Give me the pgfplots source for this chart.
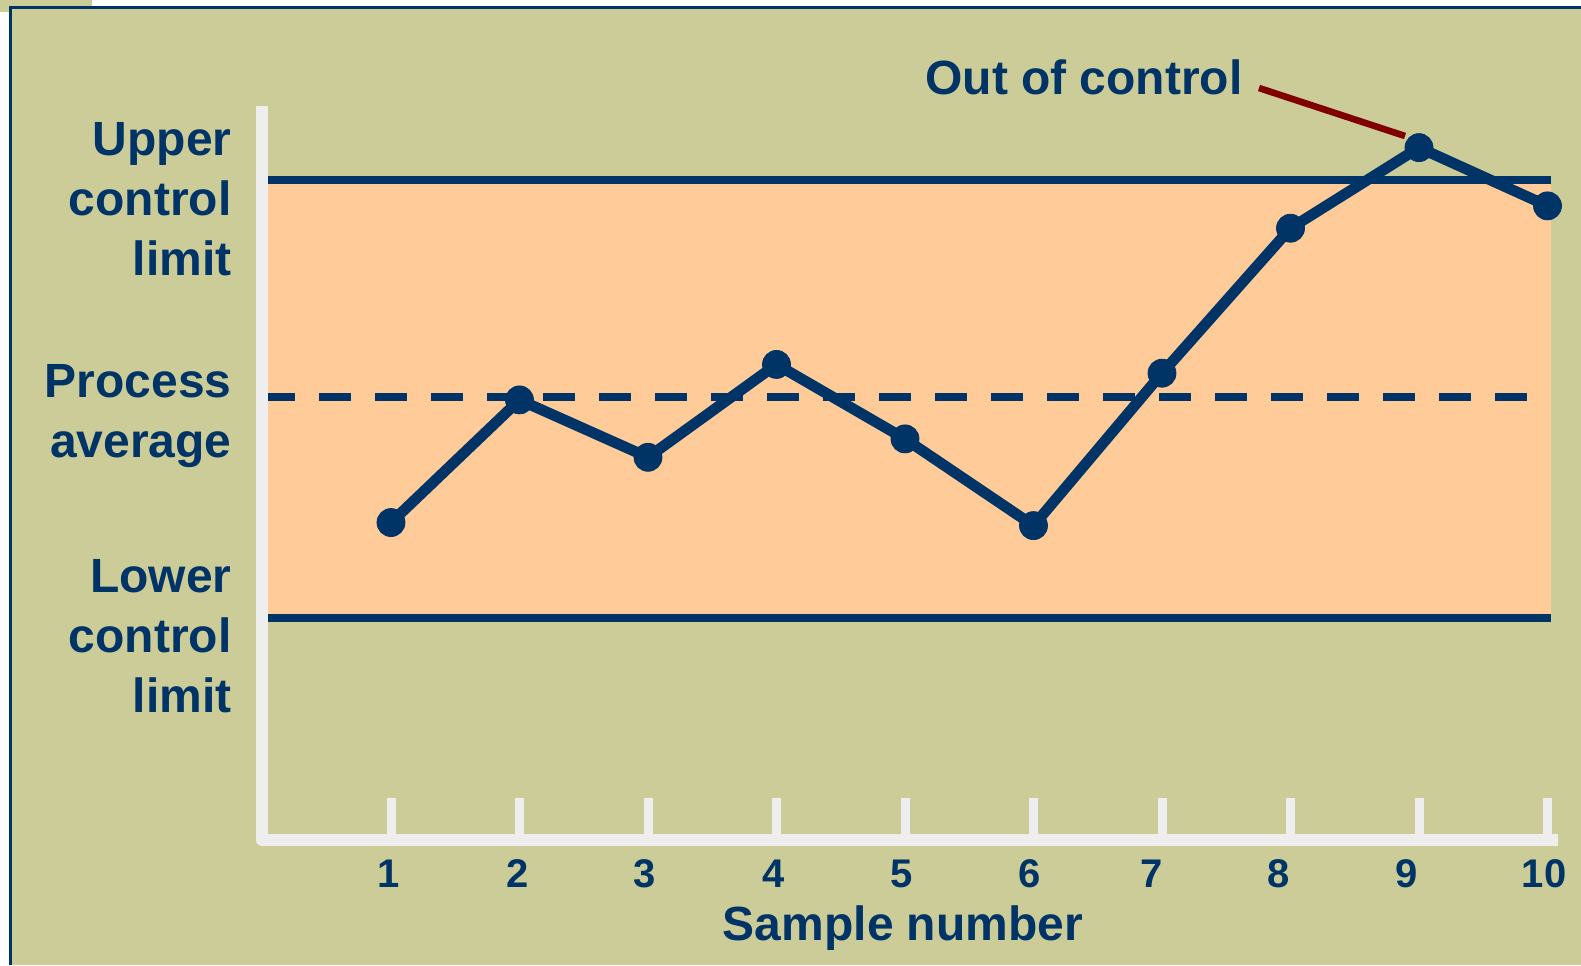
\documentclass[border=0pt]{standalone}
\usepackage{pgfplots}
\pgfplotsset{compat=1.18}
\usepackage{fontspec}
\setmainfont{Liberation Sans}

\definecolor{dkblue}{HTML}{003366}
\definecolor{olive}{HTML}{CCCC99}
\definecolor{band}{HTML}{FFCC99}
\definecolor{axisgray}{HTML}{EEEEEE}
\definecolor{pointer}{HTML}{800000}

\begin{document}
\begin{tikzpicture}[x=0.5pt, y=-0.5pt]
  % slide background and frame
  \useasboundingbox (0,0) rectangle (1581,965);
  \fill[white] (0,0) rectangle (1581,965);
  \fill[olive] (0,0) rectangle (92,12);
  \fill[olive] (10,7) rectangle (1581,965);
  \draw[dkblue, line width=1.5pt] (10.8,965) -- (10.8,7.5) -- (1581,7.5);

  \begin{axis}[
    at={(131.25pt,-420pt)}, anchor=south west,
    scale only axis, width=648.925pt, height=367pt,
    xmin=0, xmax=10.1, ymin=-50.68, ymax=116.9,
    clip=false,
    axis line style={draw=none},
    major tick length=0pt,
    ytick=\empty,
    xtick={0.984,1.988,2.977,3.981,4.977,5.970,6.920,7.910,8.905,9.973},
    xticklabels={1,2,3,4,5,6,7,8,9,10},
    xticklabel style={anchor=base, yshift=-23.5pt, inner sep=0pt,
      text=dkblue, font=\fontsize{20}{24}\selectfont\bfseries},
  ]
    % control band between the limits
    \addplot[draw=none, fill=band] coordinates
      {(0.043,0) (10.027,0) (10.027,100) (0.043,100)} -- cycle;
    % upper and lower control limits
    \addplot[dkblue, line width=3.75pt] coordinates {(0.043,100) (10.027,100)};
    \addplot[dkblue, line width=3.75pt] coordinates {(0.043,0) (10.027,0)};
    % process average
    \addplot[dkblue, line width=4pt, dash pattern=on 16pt off 12pt]
      coordinates {(0.004,50.4) (9.84,50.4)};

    % axes and tick marks
    \draw[axisgray, line width=6pt, line join=round]
      (axis cs:-0.004,116.9) -- (axis cs:-0.004,-50.68) -- (axis cs:10.082,-50.68);
    \pgfplotsinvokeforeach{1,...,10}{
      \draw[axisgray, line width=4.5pt] (axis cs:#1,-49.3) -- (axis cs:#1,-41.1);
    }

    % sample measurements
    \addplot[dkblue, line width=5.4pt, line join=round,
      mark=*, mark size=7pt, mark options={line width=0.4pt, fill=dkblue}]
      coordinates {
        (1,21.8) (2,49.8) (3,36.7) (4,57.9) (5,40.9)
        (6,21.1) (7,55.9) (8,89.0) (9,107.4) (10,94.1)
      };
  \end{axis}

  % labels
  \begin{scope}[every node/.style={inner sep=0pt, text=dkblue,
      font=\fontsize{24}{29}\selectfont\bfseries}]
    \node[anchor=base east] at (232,155) {Upper};
    \node[anchor=base east] at (232,215) {control};
    \node[anchor=base east] at (232,275) {limit};
    \node[anchor=base east] at (232,397) {Process};
    \node[anchor=base east] at (232,457) {average};
    \node[anchor=base east] at (232,592) {Lower};
    \node[anchor=base east] at (232,652) {control};
    \node[anchor=base east] at (232,712) {limit};
    \node[anchor=base] at (903,940.5) {Sample number};
    \node[anchor=base east] at (1243,94) {Out of control};
  \end{scope}
  \draw[pointer, line width=3.3pt] (1259,88) -- (1405,136);
\end{tikzpicture}
\end{document}
